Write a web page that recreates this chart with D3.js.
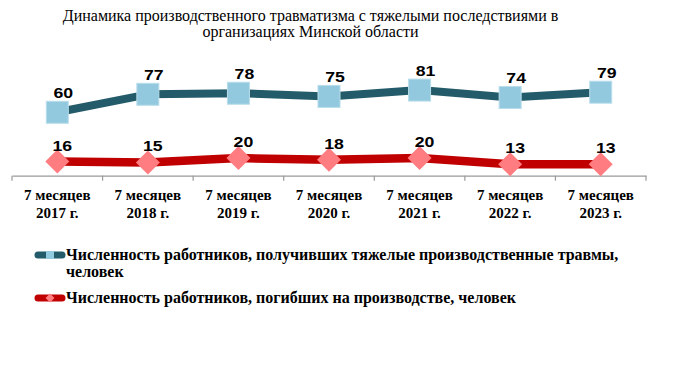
<!DOCTYPE html>
<html>
<head>
<meta charset="utf-8">
<script src="https://cdn.jsdelivr.net/npm/d3@7"></script>
<style>
    body { margin: 0; background: #fff; }
    svg { display: block; }
    .title { font-family: "Liberation Serif", "Times New Roman", serif; font-size: 16px; fill: #000; }
    .cat { font-family: "Liberation Serif", "Times New Roman", serif; font-size: 15px; font-weight: bold; fill: #000; }
    .lbl { font-family: "Liberation Sans", Arial, sans-serif; font-size: 14.5px; font-weight: bold; fill: #000; }
    .leg { font-family: "Liberation Serif", "Times New Roman", serif; font-size: 16px; font-weight: bold; fill: #000; }
</style>
</head>
<body>
<svg id="chart" width="699" height="371"></svg>
<script>
// Chart data
var categories = ["7 месяцев 2017 г.", "7 месяцев 2018 г.", "7 месяцев 2019 г.", "7 месяцев 2020 г.",
                  "7 месяцев 2021 г.", "7 месяцев 2022 г.", "7 месяцев 2023 г."];
var injured = [60, 77, 78, 75, 81, 74, 79];
var killed = [16, 15, 20, 18, 20, 13, 13];
var seriesNames = ["Численность работников, получивших тяжелые производственные травмы, человек",
                   "Численность работников, погибших на производстве, человек"];
var titleLines = ["Динамика производственного травматизма с тяжелыми последствиями в",
                  "организациях Минской области"];

var svg = d3.select('#chart');
var plotLeft = 12, plotRight = 646, plotTop = 70, plotBottom = 175.7;

var x = d3.scaleBand().domain(categories).range([plotLeft, plotRight]);
var yInj = d3.scaleLinear().domain([0, 100]).range([plotBottom, plotTop]);   // secondary axis
var yKill = d3.scaleLinear().domain([0, 120]).range([plotBottom, plotTop]);  // primary axis

function cx(d, i){ return x(categories[i]) + x.bandwidth() / 2; }

// Title
svg.append('text')
    .attr('class', 'title')
    .attr('text-anchor', 'middle')
    .selectAll('tspan').data(titleLines).enter().append('tspan')
    .attr('x', 310.5)
    .attr('y', function(d, i){ return 20.5 + i * 16; })
    .text(function(d){ return d; });

// Axis
var axis = svg.append('g')
    .attr('transform', 'translate(0,' + plotBottom + ')')
    .call(d3.axisBottom(x).tickSize(0).tickFormat(''));
axis.select('.domain').attr('stroke', '#9a9a9a').attr('stroke-width', 1.2);
axis.selectAll('.tick').remove();

var edges = categories.map(function(c){ return x(c); }).concat([plotRight]);
svg.selectAll('line.tk').data(edges).enter().append('line')
    .attr('class', 'tk')
    .attr('x1', function(d){ return d; })
    .attr('x2', function(d){ return d; })
    .attr('y1', plotBottom)
    .attr('y2', plotBottom + 5)
    .attr('stroke', '#9a9a9a')
    .attr('stroke-width', 1.2);

// Category labels (two lines each)
var cat = svg.selectAll('text.cat').data(categories).enter().append('text')
    .attr('class', 'cat')
    .attr('text-anchor', 'middle');
cat.append('tspan')
    .attr('x', function(d){ return x(d) + x.bandwidth() / 2; })
    .attr('y', 200)
    .text(function(d){ return d.split(' ').slice(0, 2).join(' '); });
cat.append('tspan')
    .attr('x', function(d){ return x(d) + x.bandwidth() / 2; })
    .attr('y', 217.7)
    .text(function(d){ return d.split(' ').slice(2).join(' '); });

// Lines
var lineInj = d3.line().x(cx).y(function(d){ return yInj(d); });
var lineKill = d3.line().x(cx).y(function(d){ return yKill(d); });

svg.append('path')
    .datum(injured)
    .attr('d', lineInj)
    .attr('fill', 'none')
    .attr('stroke', '#235B6A')
    .attr('stroke-width', 8)
    .attr('stroke-linejoin', 'round');

svg.append('path')
    .datum(killed)
    .attr('d', lineKill)
    .attr('fill', 'none')
    .attr('stroke', '#C00000')
    .attr('stroke-width', 8.5)
    .attr('stroke-linejoin', 'round');

// Markers
var sq = 22;
svg.selectAll('rect.mk').data(injured).enter().append('rect')
    .attr('class', 'mk')
    .attr('x', function(d, i){ return cx(d, i) - sq / 2; })
    .attr('y', function(d){ return yInj(d) - sq / 2; })
    .attr('width', sq)
    .attr('height', sq)
    .attr('fill', '#93C9DE')
    .attr('stroke', '#B9DDEB')
    .attr('stroke-width', 1);

var dm = 12;
svg.selectAll('path.dm').data(killed).enter().append('path')
    .attr('class', 'dm')
    .attr('transform', function(d, i){ return 'translate(' + cx(d, i) + ',' + yKill(d) + ')'; })
    .attr('d', 'M0,' + (-dm) + 'L' + dm + ',0L0,' + dm + 'L' + (-dm) + ',0Z')
    .attr('fill', '#FF7C80');

// Value labels (reference glyphs are stretched horizontally)
svg.selectAll('text.li').data(injured).enter().append('text')
    .attr('class', 'lbl')
    .attr('text-anchor', 'middle')
    .attr('transform', function(d, i){
        return 'translate(' + (cx(d, i) + 6) + ',' + (yInj(d) - 14) + ') scale(1.22,1)';
    })
    .text(function(d){ return d; });

svg.selectAll('text.lk').data(killed).enter().append('text')
    .attr('class', 'lbl')
    .attr('text-anchor', 'middle')
    .attr('transform', function(d, i){
        return 'translate(' + (cx(d, i) + 5) + ',' + (yKill(d) - 11) + ') scale(1.22,1)';
    })
    .text(function(d){ return d; });

// Legend
var legend = [
    {name: seriesNames[0], line: '#235B6A', fill: '#93C9DE', shape: 'square', y: 260},
    {name: seriesNames[1], line: '#C00000', fill: '#FF7C80', shape: 'diamond', y: 303}
];
var lg = svg.selectAll('g.lg').data(legend).enter().append('g').attr('class', 'lg');
lg.append('line')
    .attr('x1', 38).attr('x2', 62)
    .attr('y1', function(d){ return d.y - 5; })
    .attr('y2', function(d){ return d.y - 5; })
    .attr('stroke', function(d){ return d.line; })
    .attr('stroke-width', 7)
    .attr('stroke-linecap', 'round');
lg.append('path')
    .attr('transform', function(d){ return 'translate(50,' + (d.y - 5) + ')'; })
    .attr('d', function(d){
        return d.shape == 'square' ? 'M-4,-4H4V4H-4Z' : 'M0,-4.5L4.5,0L0,4.5L-4.5,0Z';
    })
    .attr('fill', function(d){ return d.fill; });

var lt = lg.append('text').attr('class', 'leg');
lt.each(function(d, i){
    var t = d3.select(this);
    if(i == 0){
        var parts = d.name.split(' травмы, ');
        t.append('tspan').attr('x', 66).attr('y', d.y).text(parts[0] + ' травмы,');
        t.append('tspan').attr('x', 66).attr('y', d.y + 17).text(parts[1]);
    } else {
        t.append('tspan').attr('x', 66).attr('y', d.y).text(d.name);
    }
});
</script>
</body>
</html>
